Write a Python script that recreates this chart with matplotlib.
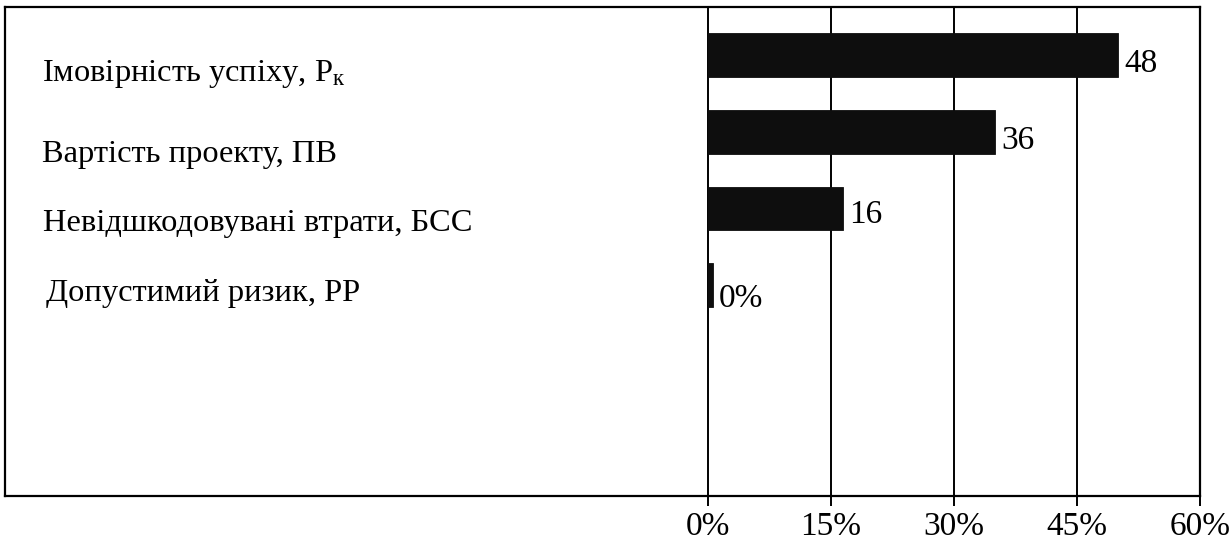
import matplotlib
matplotlib.use("Agg")
import matplotlib.pyplot as plt
from matplotlib.transforms import blended_transform_factory

# ---- data ----
categories = [
    "Імовірність успіху, P$_{\\mathrm{к}}$",
    "Вартість проекту, ПВ",
    "Невідшкодовувані втрати, БСС",
    "Допустимий ризик, РР",
]
values = [50.0, 35.0, 16.5, 0.6]          # bar lengths (%)
value_labels = ["48", "36", "16", "0%"]
xticks = [0, 15, 30, 45, 60]
xtick_labels = ["0%", "15%", "30%", "45%", "60%"]

# ---- style ----
plt.rcParams["font.family"] = ["Liberation Serif", "DejaVu Serif"]
plt.rcParams["mathtext.fontset"] = "custom"
plt.rcParams["mathtext.rm"] = "Liberation Serif"
plt.rcParams["mathtext.it"] = "Liberation Serif:italic"

W, H = 1232, 543
fig = plt.figure(figsize=(W / 100, H / 100), dpi=100)
left_px, right_px, top_px, bottom_px = 5, 1200, 7, 496
ax = fig.add_axes([left_px / W, 1 - bottom_px / H,
                   (right_px - left_px) / W, (bottom_px - top_px) / H])

px_per_unit = (right_px - 708) / 60.0
ax.set_xlim(-(708 - left_px) / px_per_unit, 60)
ax.set_ylim(5.75, -0.63)

pos = list(range(len(categories)))
ax.barh(pos, values, height=0.57, color="#0e0e0e", edgecolor="#0e0e0e",
        linewidth=0.6, zorder=3)

# vertical grid lines
for t in xticks[:-1]:
    ax.axvline(t, color="black", lw=1.4, zorder=2)

# value labels
value_dy = [0.11, 0.12, 0.08, 0.17]
for p, v, lab, dy in zip(pos, values, value_labels, value_dy):
    ax.text(v + 0.75, p + dy, lab, ha="left", va="center",
            fontsize=24, color="black", zorder=4)

# category labels (positioned independently like text boxes)
label_dx = [0.031, 0.031, 0.032, 0.034]
label_dy = [0.25, 1.30, 2.19, 3.11]
trans = blended_transform_factory(ax.transAxes, ax.transData)
for name, dx, dy in zip(categories, label_dx, label_dy):
    ax.text(dx, dy, name, transform=trans, ha="left", va="center",
            fontsize=23.4, color="black")

ax.set_xticks(xticks)
ax.set_xticklabels(xtick_labels, fontsize=24)
ax.set_yticks([])
ax.tick_params(axis="x", direction="out", length=7, width=1.4, pad=4,
               colors="black")

for s in ax.spines.values():
    s.set_color("black")
    s.set_linewidth(1.6)

fig.savefig("out.png", dpi=100, facecolor="white")
